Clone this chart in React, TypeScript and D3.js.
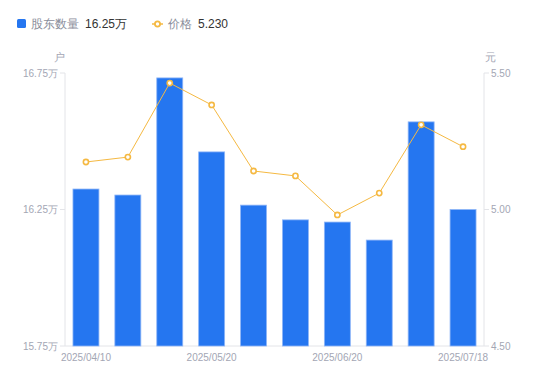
import React from "react";
import * as d3 from "d3";

const dates = ["2025/04/10", "2025/04/20", "2025/04/30", "2025/05/20", "2025/05/31", "2025/06/10", "2025/06/20", "2025/06/30", "2025/07/10", "2025/07/18"];
const holders = [16.325, 16.303, 16.732, 16.461, 16.266, 16.212, 16.204, 16.138, 16.571, 16.25];
const prices = [5.174, 5.192, 5.463, 5.383, 5.141, 5.123, 4.98, 5.06, 5.31, 5.23];
const leftTicks = [15.75, 16.25, 16.75];
const rightTicks = [4.5, 5.0, 5.5];
const xLabelIdx = [0, 3, 6, 9];

export default function App() {
  const W = 550, H = 381;
  const left = 65, right = 484, top = 73, bottom = 346;
  const x = d3.scaleBand<string>().domain(dates).range([left, right]).paddingInner(0.38).paddingOuter(0.19);
  const xc = d3.scalePoint<string>().domain(dates).range([left, right]).padding(0.5);
  const yL = d3.scaleLinear().domain([15.75, 16.75]).range([bottom, top]);
  const yR = d3.scaleLinear().domain([4.5, 5.5]).range([bottom, top]);
  const line = d3.line<number>().x((_, i) => xc(dates[i])!).y((d) => yR(d));
  const grey = "#a3a6b4";
  const axisC = "#e3e4e8";
  const font = "'Liberation Sans', Arial, sans-serif";
  return (
    <svg width={W} height={H} style={{ position: "absolute", left: 0, top: 0 }} fontFamily={font}>
      <rect width={W} height={H} fill="#fff" />
      {/* legend */}
      <rect x={17} y={19} width={9} height={9} rx={1.5} fill="#2576f0" />
      <text x={31} y={28} fontSize={12} fill="#8a8d9a">股东数量</text>
      <text x={85} y={28} fontSize={12} fill="#333">16.25万</text>
      <line x1={152} x2={163} y1={24} y2={24} stroke="#f5b942" strokeWidth={1.5} />
      <circle cx={157.5} cy={24} r={2.6} fill="#fff" stroke="#f5b942" strokeWidth={1.8} />
      <text x={168} y={28} fontSize={12} fill="#8a8d9a">价格</text>
      <text x={198} y={28} fontSize={12} fill="#333">5.230</text>
      {/* unit labels */}
      <text x={59} y={61} fontSize={11} fill={grey} textAnchor="middle">户</text>
      <text x={490} y={61} fontSize={11} fill={grey} textAnchor="middle">元</text>
      {/* axes */}
      <line x1={left} x2={left} y1={top} y2={bottom} stroke={axisC} />
      <line x1={right} x2={right} y1={top} y2={bottom} stroke={axisC} />
      <line x1={left} x2={right} y1={bottom} y2={bottom} stroke={axisC} />
      {leftTicks.map((t) => (
        <g key={"l" + t}>
          <line x1={left - 5} x2={left} y1={yL(t)} y2={yL(t)} stroke={axisC} />
          <text x={left - 7} y={yL(t)} dy="0.35em" fontSize={10} fill={grey} textAnchor="end">{t.toFixed(2)}万</text>
        </g>
      ))}
      {rightTicks.map((t) => (
        <g key={"r" + t}>
          <line x1={right} x2={right + 5} y1={yR(t)} y2={yR(t)} stroke={axisC} />
          <text x={right + 7} y={yR(t)} dy="0.35em" fontSize={10} fill={grey}>{t.toFixed(2)}</text>
        </g>
      ))}
      {xLabelIdx.map((i) => (
        <text key={dates[i]} x={xc(dates[i])!} y={361} fontSize={10} fill={grey} textAnchor="middle">{dates[i]}</text>
      ))}
      {/* bars */}
      {holders.map((v, i) => (
        <rect key={i} x={x(dates[i])!} y={yL(v)} width={x.bandwidth()} height={bottom - yL(v)} fill="#2576f0" stroke="#8fb6f7" strokeWidth={0.8} />
      ))}
      {/* line */}
      <path d={line(prices)!} fill="none" stroke="#f5b942" strokeWidth={1} />
      {prices.map((p, i) => (
        <circle key={i} cx={xc(dates[i])!} cy={yR(p)} r={2.6} fill="#fff" stroke="#f5b942" strokeWidth={1.6} />
      ))}
    </svg>
  );
}
